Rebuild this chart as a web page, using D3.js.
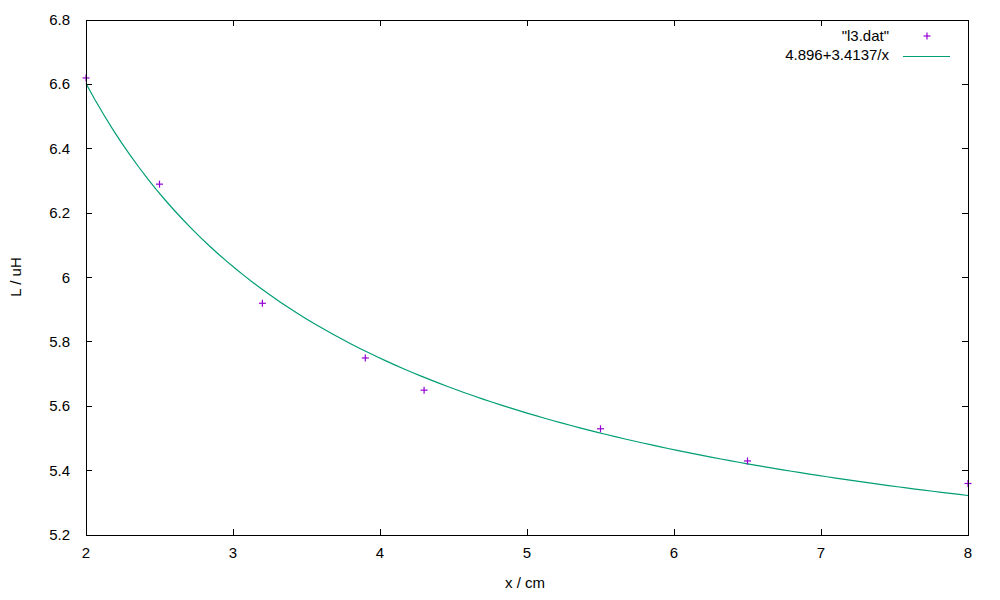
<!DOCTYPE html>
<html><head><meta charset="utf-8">
<script src="https://cdn.jsdelivr.net/npm/d3@7"></script>
<style>body{margin:0;background:#fff}svg{display:block}text{font-family:"Liberation Sans",Arial,sans-serif;font-size:15px;fill:#000}</style>
</head><body>
<script>
const xData = [2, 2.5, 3.2, 3.9, 4.3, 5.5, 6.5, 8];
const yData = [6.62, 6.29, 5.92, 5.75, 5.65, 5.53, 5.43, 5.36];
const fitA = 4.896, fitB = 3.4137;
const xTicks = [2, 3, 4, 5, 6, 7, 8];
const yTicks = [5.2, 5.4, 5.6, 5.8, 6, 6.2, 6.4, 6.6, 6.8];
const legendLabels = ['"l3.dat"', '4.896+3.4137/x'];

const W = 1000, H = 600;
const L = 86, R = 968, T = 20, B = 535;
const svg = d3.select("body").append("svg").attr("width", W).attr("height", H);
const x = d3.scaleLinear().domain([2, 8]).range([L, R]);
const y = d3.scaleLinear().domain([5.2, 6.8]).range([B, T]);

// ticks (inward, mirrored)
const tk = 6;
const g = svg.append("g").attr("stroke", "#000").attr("stroke-width", 1).attr("shape-rendering", "crispEdges");
yTicks.forEach(v => {
  g.append("line").attr("x1", L).attr("x2", L + tk).attr("y1", y(v)).attr("y2", y(v));
  g.append("line").attr("x1", R).attr("x2", R - tk).attr("y1", y(v)).attr("y2", y(v));
});
xTicks.forEach(v => {
  g.append("line").attr("x1", x(v)).attr("x2", x(v)).attr("y1", B).attr("y2", B - tk);
  g.append("line").attr("x1", x(v)).attr("x2", x(v)).attr("y1", T).attr("y2", T + tk);
});
svg.selectAll(".yl").data(yTicks).join("text").attr("x", 70).attr("y", d => y(d) + 5)
  .attr("text-anchor", "end").text(d => d3.format("~g")(d));
svg.selectAll(".xl").data(xTicks).join("text").attr("x", d => x(d)).attr("y", 558)
  .attr("text-anchor", "middle").text(d => d3.format("~g")(d));

svg.append("text").attr("x", 525).attr("y", 588).attr("text-anchor", "middle").text("x / cm");
svg.append("text").attr("transform", "translate(21,277) rotate(-90)").attr("text-anchor", "middle").text("L / uH");

// fit curve
const xs = d3.range(0, 101).map(i => 2 + 6 * i / 100);
const line = d3.line().x(d => x(d)).y(d => y(fitA + fitB / d));
svg.append("path").attr("d", line(xs)).attr("fill", "none").attr("stroke", "#009e73").attr("stroke-width", 1.2);

// points
const pc = "#9400d3", s = 3.5;
const pts = svg.append("g").attr("stroke", pc).attr("stroke-width", 1.2);
xData.forEach((xv, i) => {
  const px = x(xv), py = y(yData[i]);
  pts.append("line").attr("x1", px - s).attr("x2", px + s).attr("y1", py).attr("y2", py);
  pts.append("line").attr("x1", px).attr("x2", px).attr("y1", py - s).attr("y2", py + s);
});

// frame
svg.append("rect").attr("x", L).attr("y", T).attr("width", R - L).attr("height", B - T)
  .attr("fill", "none").attr("stroke", "#000").attr("stroke-width", 1).attr("shape-rendering", "crispEdges");

// legend
svg.append("text").attr("x", 889).attr("y", 41).attr("text-anchor", "end").text(legendLabels[0]);
svg.append("text").attr("x", 889).attr("y", 60).attr("text-anchor", "end").text(legendLabels[1]);
const lx = 927, ly = 36;
svg.append("line").attr("x1", lx - s).attr("x2", lx + s).attr("y1", ly).attr("y2", ly).attr("stroke", pc).attr("stroke-width", 1.2);
svg.append("line").attr("x1", lx).attr("x2", lx).attr("y1", ly - s).attr("y2", ly + s).attr("stroke", pc).attr("stroke-width", 1.2);
svg.append("line").attr("x1", 903).attr("x2", 950).attr("y1", 56.5).attr("y2", 56.5).attr("stroke", "#009e73").attr("stroke-width", 1.2);
</script>
</body></html>
